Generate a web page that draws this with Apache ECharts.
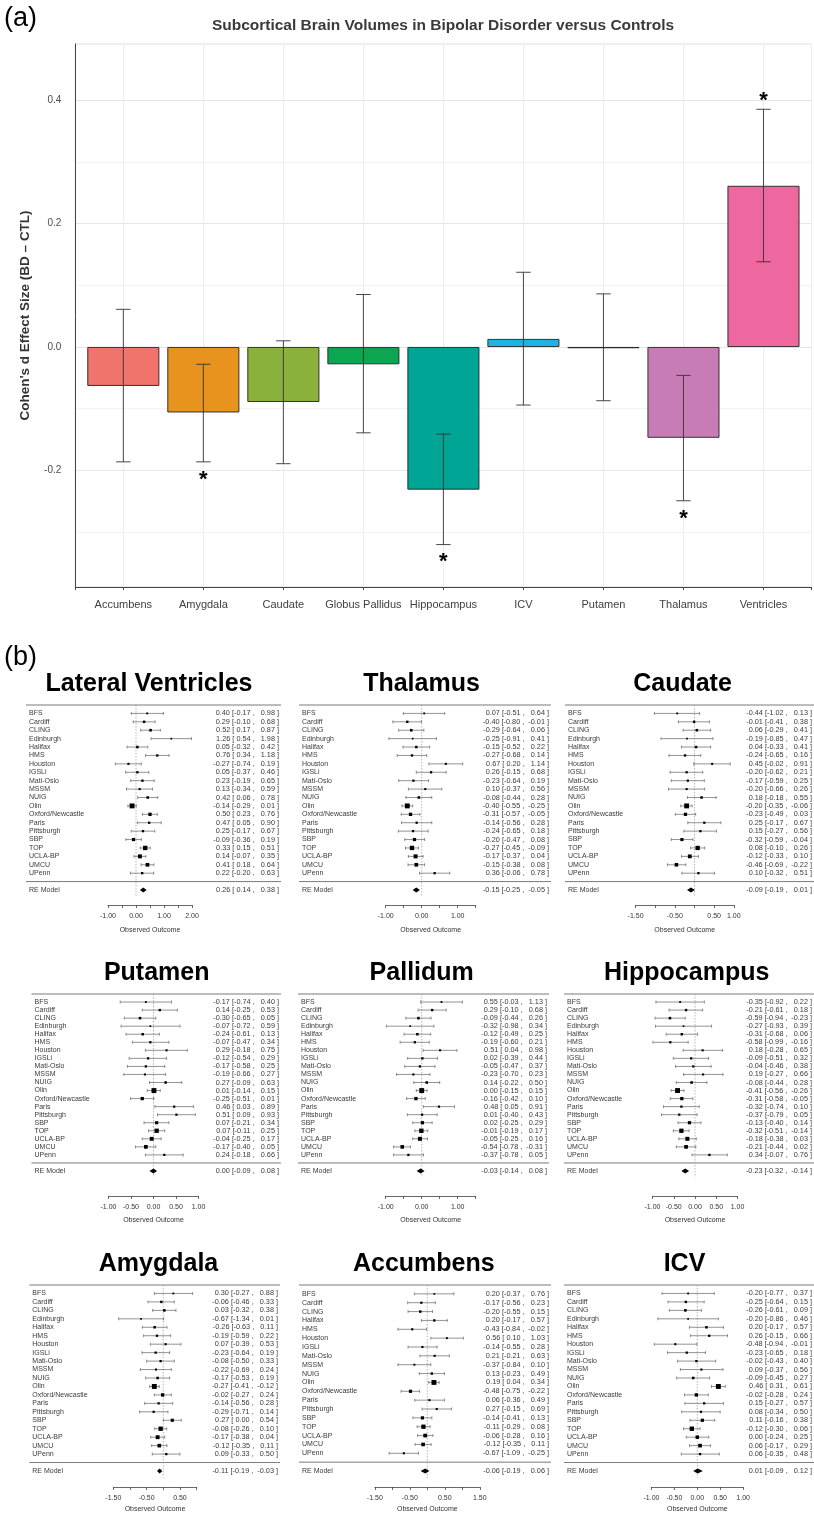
<!DOCTYPE html>
<html><head><meta charset="utf-8">
<script src="https://cdn.jsdelivr.net/npm/echarts@6/dist/echarts.min.js"></script>
<style>html,body{margin:0;padding:0;background:#fff}#c{width:814px;height:1513px}</style>
</head><body><div id="c"></div>
<script>
// ================= Panel (a) data =================
const regions = ['Accumbens','Amygdala','Caudate','Globus Pallidus','Hippocampus','ICV','Putamen','Thalamus','Ventricles'];
const cohenD = [-0.063,-0.106,-0.089,-0.028,-0.231,0.013,-0.002,-0.147,0.261];
const ciLow  = [-0.186,-0.186,-0.189,-0.139,-0.320,-0.094,-0.087,-0.249,0.138];
const ciHigh = [0.061,-0.028,0.010,0.085,-0.141,0.121,0.086,-0.046,0.385];
const significant = [false,true,false,false,true,false,false,true,true];
const barColors = ['#F0736C','#E8931E','#8AB13C','#0BA64F','#00A595','#1CB4E4','#4A7FD0','#C77CB5','#EE679F'];
const yTickLabelsA = [-0.2, 0.0, 0.2, 0.4];

// ================= Panel (b) data =================
const sites = ['BFS','Cardiff','CLING','Edinburgh','Halifax','HMS','Houston','IGSLi','Mati-Oslo','MSSM','NUIG','Olin','Oxford/Newcastle','Paris','Pittsburgh','SBP','TOP','UCLA-BP','UMCU','UPenn'];
const sitesAccumbens = ['BFS','Cardiff','CLING','Halifax','HMS','Houston','IGSLi','Mati-Oslo','MSSM','NUIG','Olin','Oxford/Newcastle','Paris','Pittsburgh','SBP','TOP','UCLA-BP','UMCU','UPenn'];

const lvEst = [0.40,0.29,0.52,1.26,0.05,0.76,-0.27,0.05,0.23,0.13,0.42,-0.14,0.50,0.47,0.25,-0.09,0.33,0.14,0.41,0.22];
const lvLo  = [-0.17,-0.10,0.17,0.54,-0.32,0.34,-0.74,-0.37,-0.19,-0.34,0.06,-0.29,0.23,0.05,-0.17,-0.36,0.15,-0.07,0.18,-0.20];
const lvHi  = [0.98,0.68,0.87,1.98,0.42,1.18,0.19,0.46,0.65,0.59,0.78,0.01,0.76,0.90,0.67,0.19,0.51,0.35,0.64,0.63];
const lvRE  = [0.26,0.14,0.38];

const thEst = [0.07,-0.40,-0.29,-0.25,-0.15,-0.27,0.67,0.26,-0.23,0.10,-0.08,-0.40,-0.31,-0.14,-0.24,-0.20,-0.27,-0.17,-0.15,0.36];
const thLo  = [-0.51,-0.80,-0.64,-0.91,-0.52,-0.68,0.20,-0.15,-0.64,-0.37,-0.44,-0.55,-0.57,-0.56,-0.65,-0.47,-0.45,-0.37,-0.38,-0.06];
const thHi  = [0.64,-0.01,0.06,0.41,0.22,0.14,1.14,0.68,0.19,0.56,0.28,-0.25,-0.05,0.28,0.18,0.08,-0.09,0.04,0.08,0.78];
const thRE  = [-0.15,-0.25,-0.05];

const caEst = [-0.44,-0.01,0.06,-0.19,0.04,-0.24,0.45,-0.20,-0.17,-0.20,0.18,-0.20,-0.23,0.25,0.15,-0.32,0.08,-0.12,-0.46,0.10];
const caLo  = [-1.02,-0.41,-0.29,-0.85,-0.33,-0.65,-0.02,-0.62,-0.59,-0.66,-0.18,-0.35,-0.49,-0.17,-0.27,-0.59,-0.10,-0.33,-0.69,-0.32];
const caHi  = [0.13,0.38,0.41,0.47,0.41,0.16,0.91,0.21,0.25,0.26,0.55,-0.06,0.03,0.67,0.56,-0.04,0.26,0.10,-0.22,0.51];
const caRE  = [-0.09,-0.19,0.01];

const puEst = [-0.17,0.14,-0.30,-0.07,-0.24,-0.07,0.29,-0.12,-0.17,-0.19,0.27,0.01,-0.25,0.46,0.51,0.07,0.07,-0.04,-0.17,0.24];
const puLo  = [-0.74,-0.25,-0.65,-0.72,-0.61,-0.47,-0.18,-0.54,-0.58,-0.66,-0.09,-0.14,-0.51,0.03,0.09,-0.21,-0.11,-0.25,-0.40,-0.18];
const puHi  = [0.40,0.53,0.05,0.59,0.13,0.34,0.75,0.29,0.25,0.27,0.63,0.15,0.01,0.89,0.93,0.34,0.25,0.17,0.05,0.66];
const puRE  = [0.00,-0.09,0.08];

const paEst = [0.55,0.29,-0.09,-0.32,-0.12,-0.19,0.51,0.02,-0.05,-0.23,0.14,0.00,-0.16,0.48,0.01,0.02,-0.01,-0.05,-0.54,-0.37];
const paLo  = [-0.03,-0.10,-0.44,-0.98,-0.49,-0.60,0.04,-0.39,-0.47,-0.70,-0.22,-0.15,-0.42,0.05,-0.40,-0.25,-0.19,-0.25,-0.78,-0.78];
const paHi  = [1.13,0.68,0.26,0.34,0.25,0.21,0.98,0.44,0.37,0.23,0.50,0.15,0.10,0.91,0.43,0.29,0.17,0.16,-0.31,0.05];
const paRE  = [-0.03,-0.14,0.08];

const hiEst = [-0.35,-0.21,-0.59,-0.27,-0.31,-0.58,0.18,-0.09,-0.04,0.19,-0.08,-0.41,-0.31,-0.32,-0.37,-0.13,-0.32,-0.18,-0.21,0.34];
const hiLo  = [-0.92,-0.61,-0.94,-0.93,-0.68,-0.99,-0.28,-0.51,-0.46,-0.27,-0.44,-0.56,-0.58,-0.74,-0.79,-0.40,-0.51,-0.38,-0.44,-0.07];
const hiHi  = [0.22,0.18,-0.23,0.39,0.06,-0.16,0.65,0.32,0.38,0.66,0.28,-0.26,-0.05,0.10,0.05,0.14,-0.14,0.03,0.02,0.76];
const hiRE  = [-0.23,-0.32,-0.14];

const amEst = [0.30,-0.06,0.03,-0.67,-0.26,-0.19,0.07,-0.23,-0.08,-0.22,-0.17,-0.27,-0.02,-0.14,-0.29,0.27,-0.08,-0.17,-0.12,0.09];
const amLo  = [-0.27,-0.46,-0.32,-1.34,-0.63,-0.59,-0.39,-0.64,-0.50,-0.69,-0.53,-0.41,-0.27,-0.56,-0.71,0.00,-0.26,-0.38,-0.35,-0.33];
const amHi  = [0.88,0.33,0.38,0.01,0.11,0.22,0.53,0.19,0.33,0.24,0.19,-0.12,0.24,0.28,0.14,0.54,0.10,0.04,0.11,0.50];
const amRE  = [-0.11,-0.19,-0.03];

const acEst = [0.20,-0.17,-0.20,0.20,-0.43,0.56,-0.14,0.21,-0.37,0.13,0.19,-0.48,0.06,0.27,-0.14,-0.11,-0.06,-0.12,-0.67];
const acLo  = [-0.37,-0.56,-0.55,-0.17,-0.84,0.10,-0.55,-0.21,-0.84,-0.23,0.04,-0.75,-0.36,-0.15,-0.41,-0.29,-0.28,-0.35,-1.09];
const acHi  = [0.76,0.23,0.15,0.57,-0.02,1.03,0.28,0.63,0.10,0.49,0.34,-0.22,0.49,0.69,0.13,0.08,0.16,0.11,-0.25];
const acRE  = [-0.06,-0.19,0.06];

const icEst = [-0.20,-0.25,-0.26,-0.20,0.20,0.26,-0.48,-0.23,-0.02,0.09,-0.09,0.46,-0.02,0.15,0.08,0.11,-0.12,0.00,0.06,0.06];
const icLo  = [-0.77,-0.64,-0.61,-0.86,-0.17,-0.15,-0.94,-0.65,-0.43,-0.37,-0.45,0.31,-0.28,-0.27,-0.34,-0.16,-0.30,-0.24,-0.17,-0.35];
const icHi  = [0.37,0.15,0.09,0.46,0.57,0.66,-0.01,0.18,0.40,0.56,0.27,0.61,0.24,0.57,0.50,0.38,0.06,0.25,0.29,0.48];
const icRE  = [0.01,-0.09,0.12];

// tick labels shown on each forest axis
const lvTicks = [-1,0,1,2], thTicks = [-1,0,1], caTicks = [-1.5,-0.5,0.5,1];
const puTicks = [-1,-0.5,0,0.5,1], paTicks = [-1,0,1], hiTicks = [-1,-0.5,0,0.5,1];
const amTicks = [-1.5,-0.5,0.5], acTicks = [-1.5,-0.5,0.5,1.5], icTicks = [-1,-0.5,0,0.5,1];

// ================= layout =================
const FF = "'Liberation Sans', Arial, Helvetica, sans-serif";
const rowLayout = [
  {ruleY:705, reY:890, axisY:905, nameGap:22, titleY:684},
  {ruleY:994, reY:1171, axisY:1196, nameGap:21, titleY:973},
  {ruleY:1285, reY:1471, axisY:1487, nameGap:19, titleY:1264}
];
const panels = [
  {title:'Lateral Ventricles', names:sites, est:lvEst, lo:lvLo, hi:lvHi, re:lvRE, ticks:lvTicks, range:[-1,2], row:0, tx:149, zero:136, scale:28, xl:26, xr:281},
  {title:'Thalamus', names:sites, est:thEst, lo:thLo, hi:thHi, re:thRE, ticks:thTicks, range:[-1,1.5], row:0, tx:421.5, zero:421.7, scale:36, xl:299, xr:551},
  {title:'Caudate', names:sites, est:caEst, lo:caLo, hi:caHi, re:caRE, ticks:caTicks, range:[-1.5,1], row:0, tx:682.5, zero:694.5, scale:39.3, xl:565, xr:814},
  {title:'Putamen', names:sites, est:puEst, lo:puLo, hi:puHi, re:puRE, ticks:puTicks, range:[-1,1], row:1, tx:156.7, zero:153.5, scale:45, xl:31.5, xr:281},
  {title:'Pallidum', names:sites, est:paEst, lo:paLo, hi:paHi, re:paRE, ticks:paTicks, range:[-1,1.5], row:1, tx:421.7, zero:421.7, scale:36, xl:298, xr:549},
  {title:'Hippocampus', names:sites, est:hiEst, lo:hiLo, hi:hiHi, re:hiRE, ticks:hiTicks, range:[-1,1], row:1, tx:686.7, zero:695, scale:42.5, xl:564, xr:814},
  {title:'Amygdala', names:sites, est:amEst, lo:amLo, hi:amHi, re:amRE, ticks:amTicks, range:[-1.5,1], row:2, tx:158.5, zero:163.3, scale:33.3, xl:29.3, xr:280},
  {title:'Accumbens', names:sitesAccumbens, est:acEst, lo:acLo, hi:acHi, re:acRE, ticks:acTicks, range:[-1.5,1.5], row:2, tx:423.8, zero:427.3, scale:35, xl:299, xr:551},
  {title:'ICV', names:sites, est:icEst, lo:icLo, hi:icHi, re:icRE, ticks:icTicks, range:[-1,1], row:2, tx:684.5, zero:697.3, scale:45.8, xl:564, xr:814}
];

function pad5(v){ const s = v.toFixed(2); return s.length < 5 ? ' ' + s : s; }
function ciText(e,l,h){ return e.toFixed(2) + ' [' + pad5(l) + ' ,  ' + pad5(h).trim().padStart(5,' ') + ' ]'; }
function txt(x,y,text,size,align,color,weight){
  return {type:'text', x:x, y:y, style:{text:text, fontSize:size, fontFamily:FF, fontWeight:weight||'normal',
    fill:color||'#333', align:align, textAlign:align, verticalAlign:'middle', textVerticalAlign:'middle'}};
}

const grids = [], xAxes = [], yAxes = [], series = [], graphics = [];

// ================= Panel (a) =================
grids.push({left:75.3, top:44, width:736.2, height:543, show:true, borderColor:'#D9D9D9', borderWidth:1,
  backgroundColor:'#fff', outerBoundsMode:'none', containLabel:false});
xAxes.push({type:'value', gridIndex:0, min:0.4, max:9.6, minInterval:1, maxInterval:1,
  axisLine:{show:true, onZero:false, lineStyle:{color:'#444', width:1}},
  axisTick:{show:true, length:3, lineStyle:{color:'#444'}},
  axisLabel:{margin:12, fontSize:11, fontFamily:FF, color:'#404040', hideOverlap:false, showMinLabel:true, showMaxLabel:true,
    formatter:v=>{const r=Math.round(v); return (Math.abs(v-r)<1e-6 && r>=1 && r<=regions.length) ? regions[r-1] : '';}},
  splitLine:{show:true, lineStyle:{color:'#EDEDED', width:1}}});
yAxes.push({type:'value', gridIndex:0, min:-0.3887, max:0.4907, minInterval:0.1, maxInterval:0.1,
  name:"Cohen's d Effect Size (BD \u2013 CTL)", nameLocation:'middle', nameGap:43,
  nameTextStyle:{fontSize:13.5, fontWeight:'bold', fontFamily:FF, color:'#333'},
  axisLine:{show:true, lineStyle:{color:'#444', width:1}}, axisTick:{show:false},
  axisLabel:{margin:14, fontSize:10, fontFamily:FF, color:'#4D4D4D', hideOverlap:false,
    formatter:v=>{ const m = yTickLabelsA.find(t=>Math.abs(t-v)<1e-6); return m===undefined ? '' : m.toFixed(1);} },
  splitLine:{show:true, lineStyle:{color:['#E6E6E6','#F3F3F3'], width:1}}});

series.push({type:'bar', xAxisIndex:0, yAxisIndex:0, barWidth:72, silent:true, z:2,
  data: cohenD.map((v,i)=>({value:[i+1, v], itemStyle:{color:barColors[i]}})),
  itemStyle:{borderColor:'#222', borderWidth:0.9}});
series.push({type:'custom', xAxisIndex:0, yAxisIndex:0, silent:true, z:4,
  data: regions.map((r,i)=>[i+1, ciLow[i], ciHigh[i]]),
  renderItem:(params, api)=>{
    const x = api.value(0);
    const a = api.coord([x, api.value(1)]), b = api.coord([x, api.value(2)]);
    const hw = api.size([0.18, 0])[0] / 2;
    const st = {stroke:'#333', lineWidth:0.9};
    return {type:'group', children:[
      {type:'line', shape:{x1:a[0], y1:a[1], x2:b[0], y2:b[1]}, style:st},
      {type:'line', shape:{x1:a[0]-hw, y1:a[1], x2:a[0]+hw, y2:a[1]}, style:st},
      {type:'line', shape:{x1:b[0]-hw, y1:b[1], x2:b[0]+hw, y2:b[1]}, style:st}
    ]};
  }});
series.push({type:'custom', xAxisIndex:0, yAxisIndex:0, silent:true, z:5,
  data: regions.map((r,i)=>[i+1, cohenD[i] < 0 ? ciLow[i] : ciHigh[i], cohenD[i] < 0 ? -1 : 1, significant[i] ? 1 : 0]),
  renderItem:(params, api)=>{
    if (!api.value(3)) return null;
    const p = api.coord([api.value(0), api.value(1) + api.value(2) * 0.021]);
    const fs = 22;
    return txt(p[0], p[1] + fs*0.22, '*', fs, 'center', '#000', 'bold');
  }});

graphics.push(txt(4, 19, '(a)', 27, 'left', '#000'));
graphics.push(txt(443, 26, 'Subcortical Brain Volumes in Bipolar Disorder versus Controls', 15.5, 'center', '#3a3a3a', 'bold'));
graphics.push(txt(4, 658, '(b)', 27, 'left', '#000'));

// ================= Panel (b) forests =================
panels.forEach((p, idx)=>{
  const gi = idx + 1;
  const L = rowLayout[p.row];
  const k = p.est.length;
  const step = (L.reY - L.ruleY) / (k + 2);
  const yMin = -1 - (L.axisY - L.reY) / step;
  const left = p.zero + p.range[0] * p.scale;
  const width = (p.range[1] - p.range[0]) * p.scale;
  const xlVal = (p.xl - p.zero) / p.scale, xrVal = (p.xr - p.zero) / p.scale;
  const tau2 = 0.01;
  const w = p.lo.map((l,i)=>{ const se = (p.hi[i]-l)/3.92; return 1/(se*se + tau2); });
  const wMin = Math.min(...w), wMax = Math.max(...w);

  grids.push({left:left, width:width, top:L.ruleY, height:L.axisY - L.ruleY, outerBoundsMode:'none', containLabel:false});
  xAxes.push({type:'value', gridIndex:gi, min:p.range[0], max:p.range[1], interval:0.5,
    name:'Observed Outcome', nameLocation:'middle', nameGap:L.nameGap,
    nameTextStyle:{fontSize:7, fontFamily:FF, color:'#333'},
    axisLine:{show:true, onZero:false, lineStyle:{color:'#444', width:0.8}},
    axisTick:{show:true, length:3, lineStyle:{color:'#444', width:0.8}},
    axisLabel:{margin:8, fontSize:7, fontFamily:FF, color:'#333', hideOverlap:false, showMinLabel:true, showMaxLabel:true,
      formatter:v=>{ const m = p.ticks.find(t=>Math.abs(t-v)<1e-6); return m===undefined ? '' : m.toFixed(2);} },
    splitLine:{show:false}});
  yAxes.push({type:'value', gridIndex:gi, min:yMin, max:k+1, show:false, splitLine:{show:false}});

  // study rows
  series.push({type:'custom', xAxisIndex:gi, yAxisIndex:gi, silent:true, clip:false, z:4,
    data: p.est.map((e,i)=>[e, p.lo[i], p.hi[i], k - i, (w[i]-wMin)/(wMax-wMin)]),
    renderItem:(params, api)=>{
      const i = params.dataIndex;
      const row = api.value(3);
      const c = api.coord([api.value(0), row]);
      const a = api.coord([api.value(1), row]);
      const b = api.coord([api.value(2), row]);
      const xl = api.coord([xlVal, row])[0], xr = api.coord([xrVal, row])[0];
      const y = c[1];
      const h = 0.85 + 1.6 * api.value(4);
      const st = {stroke:'#4a4a4a', lineWidth:0.6};
      return {type:'group', children:[
        {type:'line', shape:{x1:a[0], y1:y, x2:b[0], y2:y}, style:st},
        {type:'line', shape:{x1:a[0], y1:y-1.5, x2:a[0], y2:y+1.5}, style:st},
        {type:'line', shape:{x1:b[0], y1:y-1.5, x2:b[0], y2:y+1.5}, style:st},
        {type:'rect', shape:{x:c[0]-h, y:y-h, width:2*h, height:2*h}, style:{fill:'#000'}},
        txt(xl + 3, y, p.names[i], 7, 'left', '#3a3a3a'),
        txt(xr - 2, y, ciText(p.est[i], p.lo[i], p.hi[i]), 7.3, 'right', '#3a3a3a')
      ]};
    }});
  // frame: rules, reference line, RE model
  series.push({type:'custom', xAxisIndex:gi, yAxisIndex:gi, silent:true, clip:false, z:3,
    data: [[p.re[0], p.re[1], p.re[2]]],
    renderItem:(params, api)=>{
      const t0 = api.coord([xlVal, k+1]), t1 = api.coord([xrVal, k+1]);
      const s0 = api.coord([xlVal, 0]), s1 = api.coord([xrVal, 0]);
      const r0 = api.coord([0, k+1]), r1 = api.coord([0, -1.8]);
      const c = api.coord([api.value(0), -1]), a = api.coord([api.value(1), -1]), b = api.coord([api.value(2), -1]);
      const xl = api.coord([xlVal, -1])[0], xr = api.coord([xrVal, -1])[0];
      const ln = {stroke:'#7a7a7a', lineWidth:1};
      return {type:'group', children:[
        {type:'line', shape:{x1:t0[0], y1:t0[1], x2:t1[0], y2:t1[1]}, style:ln},
        {type:'line', shape:{x1:s0[0], y1:s0[1], x2:s1[0], y2:s1[1]}, style:ln},
        {type:'line', shape:{x1:r0[0], y1:r0[1], x2:r1[0], y2:r1[1]}, style:{stroke:'#9a9a9a', lineWidth:0.7, lineDash:[1.5,1.5]}},
        {type:'polygon', shape:{points:[[a[0],c[1]],[c[0],c[1]-2.4],[b[0],c[1]],[c[0],c[1]+2.4]]}, style:{fill:'#000'}},
        txt(xl + 3, c[1], 'RE Model', 7, 'left', '#3a3a3a'),
        txt(xr - 2, c[1], ciText(api.value(0), api.value(1), api.value(2)), 7.3, 'right', '#3a3a3a')
      ]};
    }});
  graphics.push(txt(p.tx, L.titleY, p.title, 25, 'center', '#000', 'bold'));
});

const chart = echarts.init(document.getElementById('c'), null, {renderer:'canvas'});
chart.setOption({
  backgroundColor:'#fff', animation:false,
  grid:grids, xAxis:xAxes, yAxis:yAxes, series:series,
  graphic:{elements:graphics}
});
</script></body></html>
